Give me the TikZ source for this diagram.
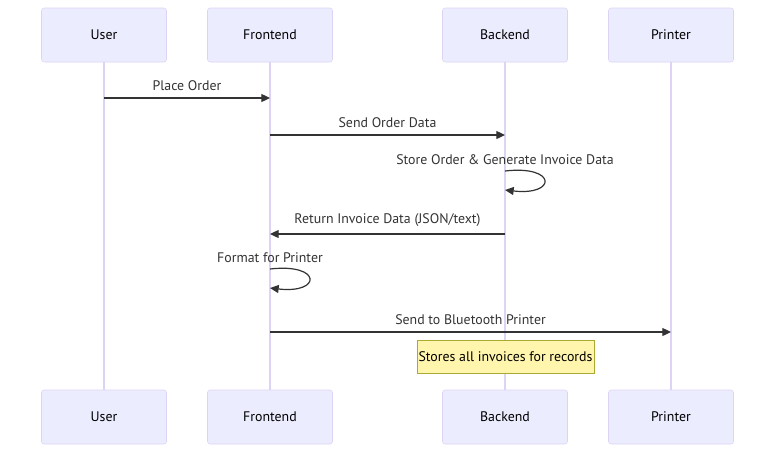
\documentclass[tikz,border=0pt]{standalone}
\usepackage{fontspec}
\setmainfont{PT Sans}
\usepackage{tikz}
\usetikzlibrary{positioning}
\usetikzlibrary{arrows.meta}
\usetikzlibrary{calc}

\definecolor{actorfill}{HTML}{ECECFF}
\definecolor{actorline}{HTML}{DCD3F5}
\definecolor{msgline}{HTML}{333333}
\definecolor{notefill}{HTML}{FFF5AD}
\definecolor{noteline}{HTML}{AAAA33}

\begin{document}
\begin{tikzpicture}[ x = 0.75pt, y = -0.75pt
                     , font = \fontsize{10.4}{12}\selectfont
                     , >={Triangle[width=0.6em, length=0.65em]}
                     , actor/.style = { rectangle
                                      , rounded corners = 2pt
                                      , draw = actorline
                                      , fill = actorfill
                                      , minimum width = 93.75pt
                                      , minimum height = 40.5pt
                                      , text = black }
                     , life/.style = {draw = actorline, line width = 1.1pt}
                     , msg/.style = {draw = msgline, line width = 0.9pt, ->}
                     , lbl/.style = {text = msgline, inner sep = 0pt}
                     ]
    \useasboundingbox (0,0) rectangle (784,458);
    %%
    %% Actors
    %%
    \node (user)     [actor] at (104,35)  {User};
    \node (frontend) [actor] at (270,35)  {Frontend};
    \node (backend)  [actor] at (505,35)  {Backend};
    \node (printer)  [actor] at (671,35)  {Printer};
    \node (userB)     [actor] at (104,417) {User};
    \node (frontendB) [actor] at (270,417) {Frontend};
    \node (backendB)  [actor] at (505,417) {Backend};
    \node (printerB)  [actor] at (671,417) {Printer};
    %%
    %% Lifelines
    %%
    \foreach \a in {user, frontend, backend, printer}
      \draw[life] (\a.south) -- (\a B.north);
    %%
    %% Messages
    %%
    \coordinate (u1) at (104,98);  \coordinate (f1) at (270,98);
    \coordinate (f2) at (270,135); \coordinate (b2) at (505,135);
    \coordinate (b3) at (505,171); \coordinate (b3e) at (505,190);
    \coordinate (b4) at (505,234); \coordinate (f4) at (270,234);
    \coordinate (f5) at (270,269); \coordinate (f5e) at (270,288);
    \coordinate (f6) at (270,332); \coordinate (p6) at (671,332);

    \draw[msg] (u1) -- node[lbl, above = 5pt] {Place Order} (f1);
    \draw[msg] (f2) -- node[lbl, above = 5pt] {Send Order Data} (b2);
    \draw[msg] (b3) .. controls ($(b3)+(52,-6)$) and ($(b3e)+(52,6)$) .. (b3e);
    \node[lbl] at (505,160) {Store Order \& Generate Invoice Data};
    \draw[msg] (b4) -- node[lbl, above = 5pt] {Return Invoice Data (JSON/text)} (f4);
    \draw[msg] (f5) .. controls ($(f5)+(52,-6)$) and ($(f5e)+(52,6)$) .. (f5e);
    \node[lbl] at (270,258) {Format for Printer};
    \draw[msg] (f6) -- node[lbl, above = 5pt] {Send to Bluetooth Printer} (p6);
    %%
    %% Note
    %%
    \node (note) [draw = noteline, fill = notefill, minimum width = 132.75pt,
                  minimum height = 24.75pt, inner sep = 0pt, text = black]
                 at (505.5,356.5) {Stores all invoices for records};
  \end{tikzpicture}
\end{document}
